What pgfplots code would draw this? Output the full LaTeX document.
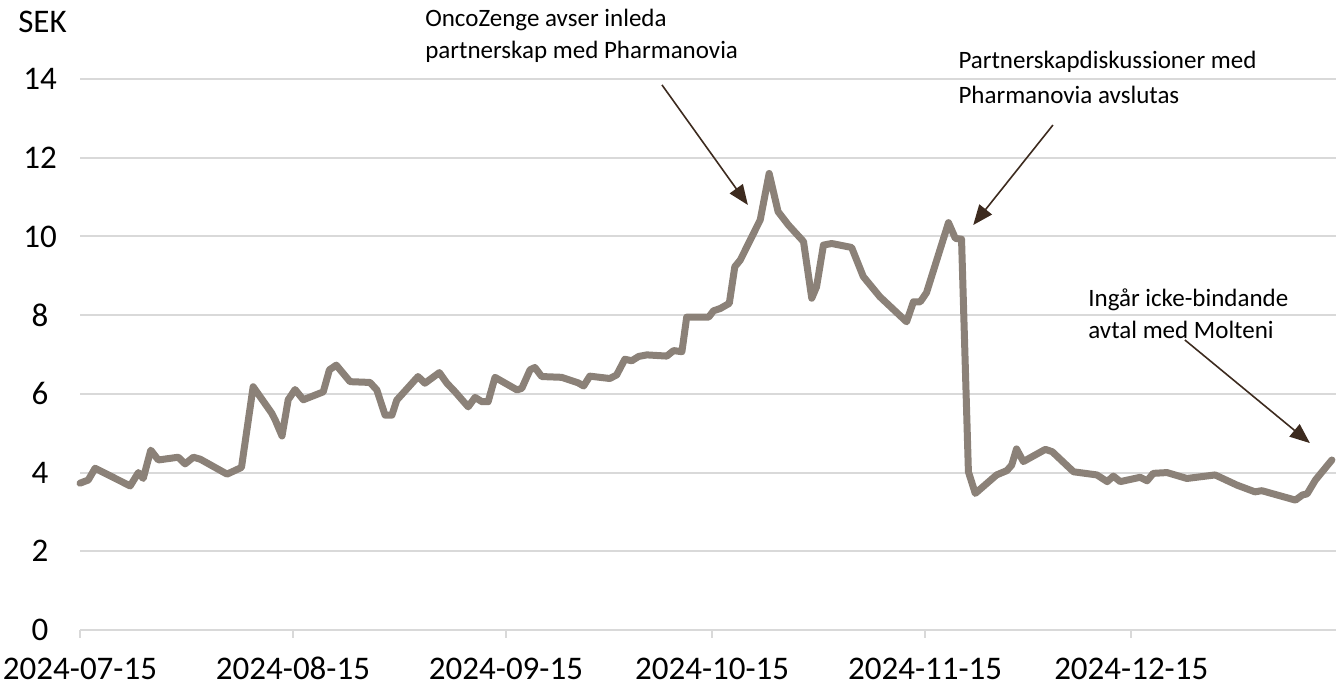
\documentclass[border=0pt]{standalone}
\usepackage{pgfplots}
\pgfplotsset{compat=1.18}
\usepackage{fontspec}
\setmainfont{Carlito}
\usetikzlibrary{arrows.meta}
\definecolor{linec}{HTML}{8B8178}
\definecolor{arrowc}{HTML}{3D2B1F}
\definecolor{gridc}{HTML}{D9D9D9}
\begin{document}
\begin{tikzpicture}
\begin{axis}[
  at={(40pt,27.5pt)}, anchor=south west,
  scale only axis, width=628pt, height=275.5pt,
  xmin=0, xmax=182.8, ymin=0, ymax=14,
  axis x line=bottom, axis y line=left,
  x axis line style={draw=gridc, line width=1pt, -},
  y axis line style={draw=none, -},
  clip=false,
  ytick={0,2,...,14},
  xtick={0,31,62,92,123,153},
  xticklabels={2024-07-15,2024-08-15,2024-09-15,2024-10-15,2024-11-15,2024-12-15},
  ymajorgrids, grid style={gridc, line width=1pt},
  major tick length=0pt,
  tick label style={font=\fontsize{16.5}{19}\selectfont, text=black},
  yticklabel style={anchor=center, xshift=-20pt},
  xticklabel style={anchor=base, inner sep=0pt, yshift=-24.5pt},
  /pgf/number format/assume math mode=true,
]
% x-axis tick marks
\pgfplotsinvokeforeach{0,31,62,92,123,153}{
  \draw[gridc, line width=1pt] (axis cs:#1,0) -- ++(0,-4pt);
}
\addplot[linec, line width=3.5pt, line join=round, line cap=round] coordinates {
(0,3.73) (1.2,3.81) (2.2,4.11) (7.3,3.66) (8.5,4.00) (9.2,3.85) (10.3,4.57)
(11.4,4.32) (14.3,4.39) (15.3,4.22) (16.5,4.39) (17.5,4.34) (21.4,3.96)
(23.5,4.13) (25.2,6.18) (27.9,5.51) (28.4,5.34) (29.4,4.93) (30.3,5.85)
(31.3,6.11) (32.5,5.85) (35.4,6.05) (36.3,6.61) (37.3,6.73) (39.3,6.31)
(42.2,6.29) (43.2,6.10) (44.4,5.46) (45.4,5.46) (46.1,5.84) (49.2,6.44)
(50.2,6.27) (52.3,6.54) (53.4,6.27) (54.6,6.05) (56.5,5.67) (57.5,5.91)
(58.5,5.80) (59.4,5.80) (60.4,6.42) (63.6,6.10) (64.3,6.14) (65.5,6.61)
(66.2,6.67) (67.2,6.44) (70.1,6.42) (71.3,6.35) (72.5,6.28) (73.3,6.20)
(74.2,6.45) (77.1,6.39) (78.1,6.48) (79.3,6.88) (80.3,6.84) (81.3,6.95)
(82.5,6.99) (85.4,6.96) (86.4,7.10) (87.6,7.07) (88.3,7.95) (91.5,7.95)
(92.2,8.11) (93.2,8.17) (94.5,8.30) (95.3,9.23) (96.1,9.40) (99.0,10.42)
(100.3,11.60) (101.6,10.63) (103.1,10.29) (105.3,9.87) (106.5,8.43)
(107.2,8.72) (108.2,9.78) (109.4,9.82) (112.3,9.72) (114.0,8.98)
(116.4,8.47) (120.3,7.83) (121.3,8.34) (122.3,8.34) (123.2,8.57)
(126.4,10.35) (127.4,9.95) (128.3,9.93) (129.3,4.02) (130.3,3.47)
(133.4,3.94) (134.9,4.05) (135.6,4.19) (136.3,4.60) (137.3,4.28)
(140.5,4.59) (141.5,4.53) (144.6,4.02) (148.0,3.94) (149.5,3.77)
(150.4,3.91) (151.4,3.77) (154.3,3.88) (155.3,3.79) (156.2,3.98)
(158.2,4.00) (161.1,3.85) (165.2,3.94) (168.4,3.68) (171.0,3.51)
(172.0,3.54) (176.9,3.30) (177.9,3.43) (178.6,3.46) (179.8,3.81) (182.2,4.32)
};
% annotations
\node[font=\fontsize{16.5}{19}\selectfont, xshift=-18.75pt, anchor=center] at (axis cs:0,15.45) {SEK};
\begin{scope}[every node/.style={anchor=west, inner sep=0pt, font=\fontsize{12.5}{16}\selectfont}]
\node at (axis cs:50.2,15.5) {OncoZenge avser inleda};
\node at (axis cs:50.2,14.68) {partnerskap med Pharmanovia};
\node at (axis cs:127.8,14.43) {Partnerskapdiskussioner med};
\node at (axis cs:127.8,13.59) {Pharmanovia avslutas};
\node at (axis cs:146.7,8.38) {Ingår icke-bindande};
\node at (axis cs:146.7,7.62) {avtal med Molteni};
\end{scope}
\draw[arrowc, line width=0.8pt, -{Triangle[length=10pt,width=8pt]}] (axis cs:84.7,13.85) -- (axis cs:97.2,10.80);
\draw[arrowc, line width=0.8pt, -{Triangle[length=10pt,width=8pt]}] (axis cs:141.6,12.83) -- (axis cs:130.0,10.29);
\draw[arrowc, line width=0.8pt, -{Triangle[length=10pt,width=8pt]}] (axis cs:160.8,7.37) -- (axis cs:179.0,4.75);
\end{axis}
\pgfresetboundingbox
\useasboundingbox (0,0) rectangle (669pt,342.5pt);
\end{tikzpicture}
\end{document}
